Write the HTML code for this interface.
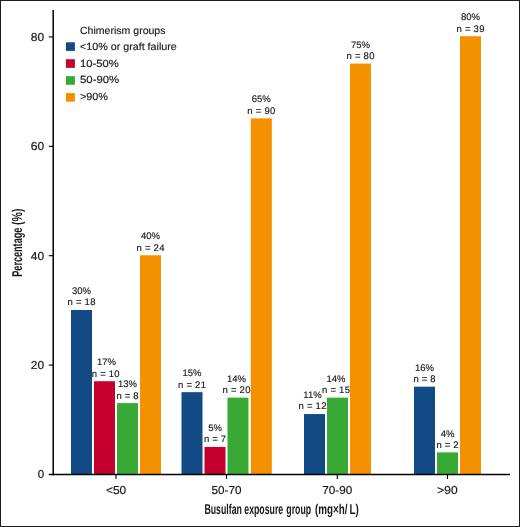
<!DOCTYPE html>
<html lang="en"><head><meta charset="utf-8"><title>Chimerism groups by busulfan exposure</title>
<style>
html,body{margin:0;padding:0;background:#fff;}
body{width:520px;height:527px;overflow:hidden;}
svg{display:block;will-change:transform;}
text{font-family:"Liberation Sans",Arial,Helvetica,sans-serif;fill:#1a1718;text-rendering:geometricPrecision;}
.ax{font-size:11.5px;stroke:#1a1718;stroke-width:0.2px;}
.lg{font-size:10.4px;stroke:#1a1718;stroke-width:0.15px;}
.bl{font-size:9.5px;text-anchor:middle;stroke:#1a1718;stroke-width:0.15px;}
.tt{font-size:14.2px;font-weight:bold;}
</style></head><body>
<svg width="520" height="527" viewBox="0 0 520 527">
<rect x="0" y="0" width="520" height="527" fill="#fff"/>
<rect x="71.00" y="310.02" width="21" height="164.28" fill="#124a85"/>
<rect x="94.00" y="381.21" width="21" height="93.09" fill="#c5002e"/>
<rect x="117.00" y="403.11" width="21" height="71.19" fill="#39a935"/>
<rect x="140.00" y="255.26" width="21" height="219.04" fill="#f39100"/>
<rect x="181.50" y="392.16" width="21" height="82.14" fill="#124a85"/>
<rect x="204.50" y="446.92" width="21" height="27.38" fill="#c5002e"/>
<rect x="227.50" y="397.64" width="21" height="76.66" fill="#39a935"/>
<rect x="250.80" y="118.36" width="21" height="355.94" fill="#f39100"/>
<rect x="304.00" y="414.06" width="21" height="60.24" fill="#124a85"/>
<rect x="327.00" y="397.64" width="21" height="76.66" fill="#39a935"/>
<rect x="350.00" y="63.60" width="21" height="410.70" fill="#f39100"/>
<rect x="414.00" y="386.68" width="21" height="87.62" fill="#124a85"/>
<rect x="437.00" y="452.40" width="21" height="21.90" fill="#39a935"/>
<rect x="460.00" y="36.22" width="21" height="438.08" fill="#f39100"/>
<g stroke="#000" stroke-width="1.5" fill="none">
<line x1="53.2" y1="10" x2="53.2" y2="475.2"/>
<line x1="48.8" y1="474.6" x2="510" y2="474.6" stroke-width="1.5"/>
</g>
<g stroke="#000" stroke-width="1.1" fill="none">
<line x1="48.8" y1="365.10" x2="53.2" y2="365.10"/>
<line x1="48.8" y1="255.70" x2="53.2" y2="255.70"/>
<line x1="48.8" y1="146.30" x2="53.2" y2="146.30"/>
<line x1="48.8" y1="36.90" x2="53.2" y2="36.90"/>
<line x1="116.0" y1="475" x2="116.0" y2="478.9"/>
<line x1="226.5" y1="475" x2="226.5" y2="478.9"/>
<line x1="337.3" y1="475" x2="337.3" y2="478.9"/>
<line x1="447.5" y1="475" x2="447.5" y2="478.9"/>
</g>
<text class="ax" x="44.2" y="477.70" text-anchor="end">0</text>
<text class="ax" x="30.7" y="369.20" textLength="13.4" lengthAdjust="spacingAndGlyphs">20</text>
<text class="ax" x="30.7" y="259.80" textLength="13.4" lengthAdjust="spacingAndGlyphs">40</text>
<text class="ax" x="30.7" y="150.40" textLength="13.4" lengthAdjust="spacingAndGlyphs">60</text>
<text class="ax" x="30.7" y="41.00" textLength="13.4" lengthAdjust="spacingAndGlyphs">80</text>
<text class="ax" x="105.95" y="493.7" textLength="20.3" lengthAdjust="spacingAndGlyphs">&lt;50</text>
<text class="ax" x="211.55" y="493.7" textLength="29.9" lengthAdjust="spacingAndGlyphs">50-70</text>
<text class="ax" x="322.35" y="493.7" textLength="29.9" lengthAdjust="spacingAndGlyphs">70-90</text>
<text class="ax" x="437.35" y="493.7" textLength="20.3" lengthAdjust="spacingAndGlyphs">&gt;90</text>
<text class="bl" x="81.50" y="294.12">30%</text>
<text class="bl" x="81.50" y="305.42" textLength="27.9" lengthAdjust="spacing">n = 18</text>
<text class="bl" x="106.50" y="365.31">17%</text>
<text class="bl" x="105.70" y="376.61" textLength="27.9" lengthAdjust="spacing">n = 10</text>
<text class="bl" x="127.50" y="387.21">13%</text>
<text class="bl" x="127.50" y="398.51" textLength="22.2" lengthAdjust="spacing">n = 8</text>
<text class="bl" x="150.50" y="239.36">40%</text>
<text class="bl" x="150.50" y="250.66" textLength="27.9" lengthAdjust="spacing">n = 24</text>
<text class="bl" x="192.00" y="376.26">15%</text>
<text class="bl" x="192.00" y="387.56" textLength="27.9" lengthAdjust="spacing">n = 21</text>
<text class="bl" x="215.00" y="431.02">5%</text>
<text class="bl" x="215.00" y="442.32" textLength="22.2" lengthAdjust="spacing">n = 7</text>
<text class="bl" x="236.50" y="381.74">14%</text>
<text class="bl" x="236.50" y="393.04" textLength="27.9" lengthAdjust="spacing">n = 20</text>
<text class="bl" x="261.30" y="102.46">65%</text>
<text class="bl" x="261.30" y="113.76" textLength="27.9" lengthAdjust="spacing">n = 90</text>
<text class="bl" x="312.50" y="398.16">11%</text>
<text class="bl" x="312.50" y="409.46" textLength="27.9" lengthAdjust="spacing">n = 12</text>
<text class="bl" x="336.00" y="381.74">14%</text>
<text class="bl" x="336.00" y="393.04" textLength="27.9" lengthAdjust="spacing">n = 15</text>
<text class="bl" x="360.50" y="47.70">75%</text>
<text class="bl" x="360.50" y="59.00" textLength="27.9" lengthAdjust="spacing">n = 80</text>
<text class="bl" x="424.50" y="370.78">16%</text>
<text class="bl" x="424.50" y="382.08" textLength="22.2" lengthAdjust="spacing">n = 8</text>
<text class="bl" x="447.50" y="436.50">4%</text>
<text class="bl" x="447.50" y="447.80" textLength="22.2" lengthAdjust="spacing">n = 2</text>
<text class="bl" x="470.50" y="20.32">80%</text>
<text class="bl" x="470.50" y="31.62" textLength="27.9" lengthAdjust="spacing">n = 39</text>
<text class="lg" x="80" y="33.9" textLength="85.5" lengthAdjust="spacingAndGlyphs">Chimerism groups</text>
<rect x="65.9" y="42.30" width="9" height="8.6" fill="#124a85"/>
<text class="lg" x="80" y="50.00" textLength="96.8" lengthAdjust="spacingAndGlyphs">&lt;10% or graft failure</text>
<rect x="65.9" y="59.23" width="9" height="8.6" fill="#c5002e"/>
<text class="lg" x="80" y="66.70" textLength="38.8" lengthAdjust="spacingAndGlyphs">10-50%</text>
<rect x="65.9" y="76.16" width="9" height="8.6" fill="#39a935"/>
<text class="lg" x="80" y="83.40" textLength="39.2" lengthAdjust="spacingAndGlyphs">50-90%</text>
<rect x="65.9" y="93.09" width="9" height="8.6" fill="#f39100"/>
<text class="lg" x="80" y="100.10" textLength="28.0" lengthAdjust="spacingAndGlyphs">&gt;90%</text>
<text class="tt" x="204.4" y="513.8" textLength="37.5" lengthAdjust="spacingAndGlyphs">Busulfan</text>
<text class="tt" x="244.3" y="513.8" textLength="38.9" lengthAdjust="spacingAndGlyphs">exposure</text>
<text class="tt" x="286.3" y="513.8" textLength="24.9" lengthAdjust="spacingAndGlyphs">group</text>
<text class="tt" x="315.1" y="513.8" textLength="43.7" lengthAdjust="spacingAndGlyphs">(mg×h/&#8201;L)</text>
<g transform="translate(21.8,276.7) rotate(-90)">
<text class="tt" x="0" y="0" textLength="49" lengthAdjust="spacingAndGlyphs">Percentage</text>
<text class="tt" x="51.8" y="0" textLength="16.4" lengthAdjust="spacingAndGlyphs">(%)</text>
</g>
<rect x="0.5" y="0.5" width="519" height="526" fill="none" stroke="#1c1c1c" stroke-width="1"/>
</svg>
</body></html>
